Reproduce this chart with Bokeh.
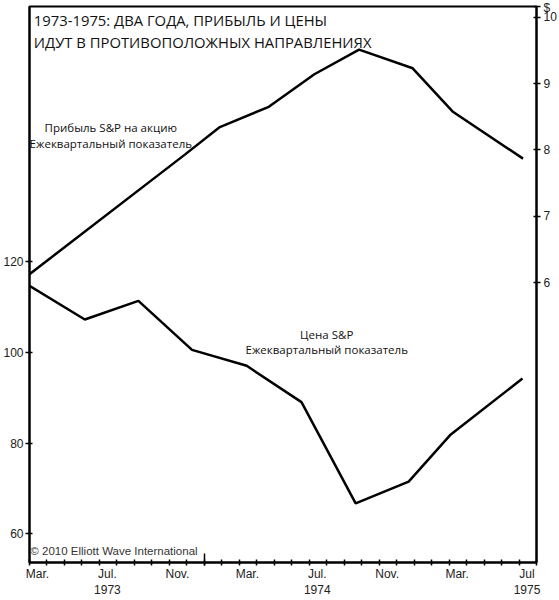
import pandas as pd
from bokeh.plotting import figure
from bokeh.models import Range1d, LinearAxis, FixedTicker, Label, Grid
from bokeh.embed import file_html
from bokeh.resources import INLINE

# ---- data ----
price_dates = ["1973-03-01", "1973-06-06", "1973-09-08", "1973-12-10", "1974-03-14",
               "1974-06-18", "1974-09-21", "1974-12-22", "1975-03-04", "1975-07-07"]
price_values = [114.6, 107.2, 111.3, 100.5, 97.0, 89.0, 66.7, 71.5, 81.9, 94.2]

eps_dates = ["1973-03-01", "1973-11-28", "1974-01-27", "1974-04-22", "1974-07-10",
             "1974-09-27", "1974-12-29", "1975-03-07", "1975-07-08"]
eps_values = [6.13, 7.93, 8.34, 8.65, 9.14, 9.51, 9.23, 8.58, 7.87]

left_ticks = [60, 80, 100, 120]
right_ticks = [6, 7, 8, 9, 10]
right_unit = "$"
month_label_dates = ["1973-03-15", "1973-07-15", "1973-11-15", "1974-03-15",
                     "1974-07-15", "1974-11-15", "1975-03-15", "1975-07-15"]
month_labels = ["Mar.", "Jul.\n1973", "Nov.", "Mar.", "Jul.\n1974", "Nov.", "Mar.", "Jul\n1975"]
year_boundaries = ["1974-01-01"]

BASE_YEAR = 1973


def to_month(s):
    d = pd.Timestamp(s)
    return (d.year - BASE_YEAR) * 12 + (d.month - 1) + (d.day - 1) / 30.5


price_x = [to_month(s) for s in price_dates]
eps_x = [to_month(s) for s in eps_dates]
label_x = [round(to_month(s), 3) for s in month_label_dates]
year_x = [to_month(s) for s in year_boundaries]

x_start = to_month("1973-03-01")
x_end = to_month("1975-08-01")
month_bounds = list(range(int(x_start), int(x_end) + 1))

FONT = "Liberation Sans"
TFONT = "Open Sans"

RIGHT_MIN, RIGHT_MAX = 1.79, 10.16

p = figure(width=559, height=600, x_range=Range1d(x_start, x_end),
           y_range=Range1d(53.7, 176.1), output_backend="svg", toolbar_location=None,
           x_axis_location=None, y_axis_location=None,
           min_border_left=26, min_border_right=23, min_border_top=6, min_border_bottom=0)
p.extra_y_ranges = {"right": Range1d(RIGHT_MIN, RIGHT_MAX)}
p.outline_line_color = "black"
p.outline_line_width = 2
p.outline_line_alpha = 1
p.background_fill_color = "white"
p.border_fill_color = "white"

common = dict(axis_line_width=2, axis_line_color="black", major_tick_line_width=1.5,
              major_tick_line_color="black", minor_tick_line_color="black",
              minor_tick_line_width=1.5,
              major_label_text_font=FONT, major_label_text_font_size="12px",
              major_label_text_color="#222222")

yl = LinearAxis(ticker=FixedTicker(ticks=left_ticks), major_tick_in=3, major_tick_out=4,
                minor_tick_in=0, minor_tick_out=0, major_label_standoff=2, **common)
p.add_layout(yl, "left")

unit_pos = RIGHT_MAX - 0.005
yr = LinearAxis(y_range_name="right", ticker=FixedTicker(ticks=right_ticks + [unit_pos]),
                major_label_overrides={unit_pos: right_unit},
                major_tick_in=3, major_tick_out=4, minor_tick_in=0, minor_tick_out=0,
                major_label_standoff=3, **common)
p.add_layout(yr, "right")

xt = LinearAxis(ticker=FixedTicker(ticks=year_x, minor_ticks=month_bounds),
                major_tick_in=9, major_tick_out=3, minor_tick_in=3, minor_tick_out=3,
                major_label_overrides={v: "" for v in year_x}, major_label_standoff=0,
                **{**common, "major_label_text_font_size": "1px"})
p.add_layout(xt, "below")

xl = LinearAxis(ticker=FixedTicker(ticks=label_x),
                major_label_overrides=dict(zip(label_x, month_labels)),
                major_tick_in=0, major_tick_out=0, minor_tick_in=0, minor_tick_out=0,
                major_label_standoff=1, **{**common, "axis_line_color": None,
                                             "major_tick_line_color": None,
                                             "minor_tick_line_color": None})
p.add_layout(xl, "below")

for r in list(p.center):
    if isinstance(r, Grid):
        r.visible = False

p.line(x=price_x, y=price_values, line_color="black", line_width=2.5)
p.line(x=eps_x, y=eps_values, line_color="black", line_width=2.5, y_range_name="right")

# ---- texts ----
def lab(x, y, text, size, font=TFONT, align="left", y_range_name="default", color="#111111"):
    p.add_layout(Label(x=x, y=y, text=text, text_font=font, text_font_size=size,
                       text_align=align, text_baseline="middle", text_color=color,
                       y_range_name=y_range_name))

lab(2.25, 173.1, "1973-1975: ДВА ГОДА, ПРИБЫЛЬ И ЦЕНЫ", "14.8px")
lab(2.25, 168.3, "ИДУТ В ПРОТИВОПОЛОЖНЫХ НАПРАВЛЕНИЯХ", "14.8px")
lab(6.65, 149.5, "Прибыль S&P на акцию", "11.5px", align="center")
lab(6.65, 146.0, "Ежеквартальный показатель", "11.5px", align="center")
lab(19.0, 104.0, "Цена S&P", "11.5px", align="center")
lab(19.0, 100.5, "Ежеквартальный показатель", "11.5px", align="center")
lab(2.05, 56.3, "© 2010 Elliott Wave International", "11.5px", font=FONT, color="#333333")

open("out.html", "w").write(file_html(p, INLINE))
